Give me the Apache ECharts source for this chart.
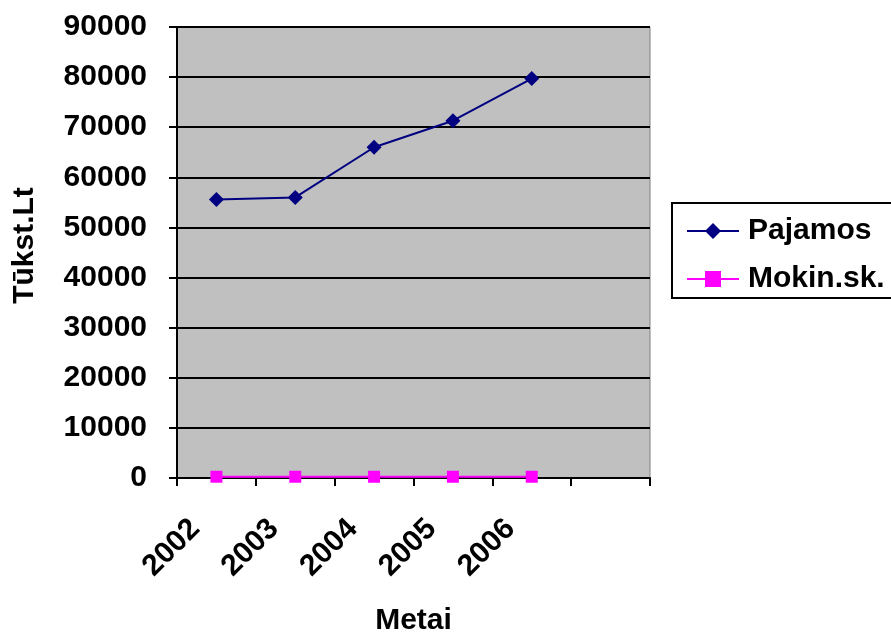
<!DOCTYPE html>
<html>
<head>
<meta charset="utf-8">
<script src="https://cdn.jsdelivr.net/npm/echarts@6/dist/echarts.min.js"></script>
<style>
  html, body { margin: 0; padding: 0; background: #ffffff; }
  #chart { width: 891px; height: 632px; }
</style>
</head>
<body>
<div id="chart"></div>
<script>
// Years on the category axis; the last slot is left empty
const years = ['2002', '2003', '2004', '2005', '2006', ''];
// Income, thousand Lt
const pajamos = [55600, 56000, 66000, 71300, 79700];
// Tuition, thousand Lt
const mokinSk = [250, 250, 250, 250, 250];
const yTicks = { min: 0, max: 90000, interval: 10000 };

const FONT = '"Liberation Sans", Arial, sans-serif';

const chart = echarts.init(document.getElementById('chart'), null, { renderer: 'canvas' });

chart.setOption({
  backgroundColor: '#ffffff',
  animation: false,
  grid: {
    left: 177, right: 241, top: 27, bottom: 154,
    containLabel: false,
    outerBoundsMode: 'none',
    show: true,
    backgroundColor: '#c0c0c0',
    borderColor: '#808080',
    borderWidth: 1
  },
  legend: {
    orient: 'vertical',
    left: 672,
    top: 203,
    padding: [11, 10, 2, 14],
    itemGap: 14,
    itemWidth: 52,
    itemHeight: 20,
    borderColor: '#000000',
    borderWidth: 2,
    textStyle: {
      fontFamily: FONT, fontWeight: 'bold', fontSize: 30, color: '#000000',
      lineHeight: 34, padding: [0, 0, 0, 4]
    },
    data: ['Pajamos', 'Mokin.sk.']
  },
  xAxis: {
    type: 'category',
    data: years,
    boundaryGap: true,
    name: 'Metai',
    nameLocation: 'middle',
    nameGap: 128,
    nameTextStyle: { fontFamily: FONT, fontWeight: 'bold', fontSize: 30, color: '#000000' },
    axisLine: { show: true, lineStyle: { color: '#000000', width: 2 } },
    axisTick: { show: true, alignWithLabel: false, length: 8, lineStyle: { color: '#000000', width: 2 } },
    axisLabel: {
      rotate: 45, margin: 25, interval: 0,
      padding: [0, 30, 0, 0],
      fontFamily: FONT, fontWeight: 'bold', fontSize: 30, color: '#000000'
    },
    splitLine: { show: false }
  },
  yAxis: {
    type: 'value',
    min: yTicks.min, max: yTicks.max, interval: yTicks.interval,
    name: 'Tūkst.Lt',
    nameLocation: 'middle',
    nameGap: 137,
    nameRotate: 90,
    nameTextStyle: {
      fontFamily: FONT, fontWeight: 'bold', fontSize: 30, color: '#000000',
      padding: [0, 0, 0, 14]
    },
    axisLine: { show: true, lineStyle: { color: '#000000', width: 2 } },
    axisTick: { show: true, length: 8, lineStyle: { color: '#000000', width: 2 } },
    axisLabel: {
      margin: 30,
      formatter: function (v) { return String(v); },
      fontFamily: FONT, fontWeight: 'bold', fontSize: 30, color: '#000000'
    },
    splitLine: { show: true, lineStyle: { color: '#000000', width: 2 } }
  },
  series: [
    {
      name: 'Pajamos',
      type: 'line',
      data: pajamos,
      color: '#000080',
      lineStyle: { color: '#000080', width: 2 },
      symbol: 'diamond',
      symbolSize: 15,
      itemStyle: { color: '#000080' },
      z: 3
    },
    {
      name: 'Mokin.sk.',
      type: 'line',
      data: mokinSk,
      color: '#ff00ff',
      lineStyle: { color: '#ff00ff', width: 2 },
      symbol: 'rect',
      symbolSize: 12,
      itemStyle: { color: '#ff00ff' },
      z: 4
    }
  ]
});
</script>
</body>
</html>
